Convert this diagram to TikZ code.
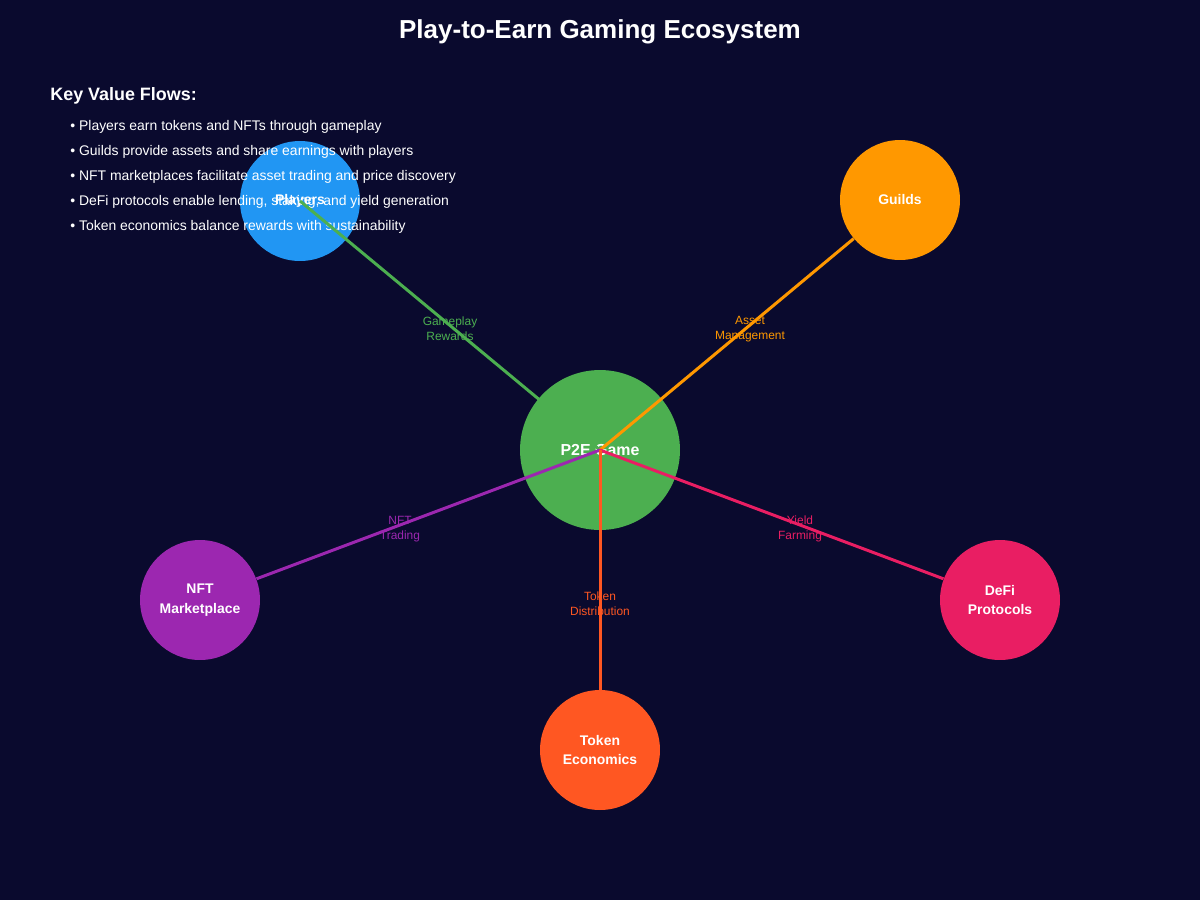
\documentclass[tikz,border=0pt]{standalone}
\usepackage{fontspec}
\setmainfont{Liberation Sans}
\usetikzlibrary{arrows, shapes}

\definecolor{night}{HTML}{0A0A2E}
\definecolor{cplay}{HTML}{2196F3}
\definecolor{cguild}{HTML}{FF9800}
\definecolor{cgame}{HTML}{4CAF50}
\definecolor{cnft}{HTML}{9C27B0}
\definecolor{cdefi}{HTML}{E91E63}
\definecolor{ctoken}{HTML}{FF5722}

\tikzset{
  party/.style={circle, fill=#1, inner sep=0pt, minimum size=2.4cm, text=white, align=center,
    font=\fontsize{7.94}{11.34}\selectfont\bfseries},
  flow/.style={draw=#1, line width=1.7pt},
  flowlbl/.style={text=#1, align=center, inner sep=0pt, font=\fontsize{6.8}{8.5}\selectfont},
  bullet/.style={anchor=base west, inner sep=0pt, text=white, font=\fontsize{7.94}{9.5}\selectfont}
}

\begin{document}
\begin{tikzpicture}[x=0.02cm, y=-0.02cm]
\fill[night] (0,0) rectangle (1200,900);

\node[text=white, font=\fontsize{14.8}{17}\selectfont\bfseries] (title) at (600,32) {Play-to-Earn Gaming Ecosystem};
\node[anchor=base west, inner sep=0pt, text=white, font=\fontsize{10.2}{12}\selectfont\bfseries] (key) at (50,100) {Key Value Flows:};

\node[party=cplay] (players) at (300,201) {Players};

\node[bullet] (b1) at (70,130) {• Players earn tokens and NFTs through gameplay};
\node[bullet] (b2) at (70,155) {• Guilds provide assets and share earnings with players};
\node[bullet] (b3) at (70,180) {• NFT marketplaces facilitate asset trading and price discovery};
\node[bullet] (b4) at (70,205) {• DeFi protocols enable lending, staking, and yield generation};
\node[bullet] (b5) at (70,230) {• Token economics balance rewards with sustainability};

\node[party=cgame, minimum size=3.2cm, font=\fontsize{9.07}{11}\selectfont\bfseries] (game) at (600,450) {P2E Game};
\node[party=cguild] (guilds) at (900,200) {Guilds};
\node[party=cnft] (nft) at (200,600) {NFT\\Marketplace};
\node[party=cdefi] (defi) at (1000,600) {DeFi\\Protocols};
\node[party=ctoken] (token) at (600,750) {Token\\Economics};

\node[flowlbl=cgame] (l1) at (450,329) {Gameplay\\Rewards};
\node[flowlbl=cguild] (l2) at (750,329) {Asset\\Management};
\node[flowlbl=cnft] (l3) at (400,529) {NFT\\Trading};
\node[flowlbl=cdefi] (l4) at (800,529) {Yield\\Farming};
\node[flowlbl=ctoken] (l5) at (600,604) {Token\\Distribution};

\draw[flow=cgame] (game.center) -- (players.center);
\draw[flow=cguild] (game.center) -- (guilds);
\draw[flow=cnft] (game.center) -- (nft);
\draw[flow=cdefi] (game.center) -- (defi);
\draw[flow=ctoken] (game.center) -- (token);
\end{tikzpicture}
\end{document}
